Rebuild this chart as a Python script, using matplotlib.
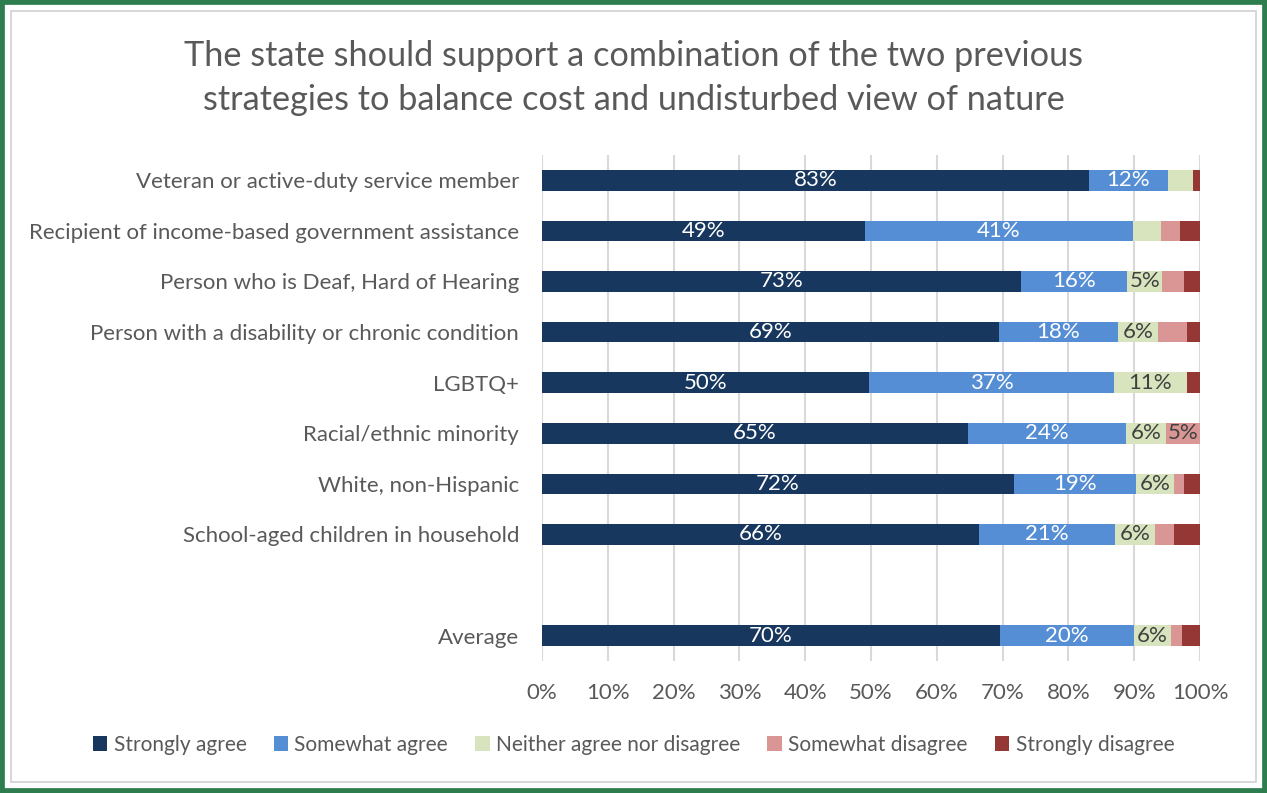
import matplotlib
matplotlib.use("Agg")
import matplotlib.pyplot as plt
from matplotlib.patches import Rectangle
import numpy as np

plt.rcParams['font.family'] = ['Lato', 'DejaVu Sans']

title = "The state should support a combination of the two previous\nstrategies to balance cost and undisturbed view of nature"

categories = [
    "Veteran or active-duty service member",
    "Recipient of income-based government assistance",
    "Person who is Deaf, Hard of Hearing",
    "Person with a disability or chronic condition",
    "LGBTQ+",
    "Racial/ethnic minority",
    "White, non-Hispanic",
    "School-aged children in household",
    "",
    "Average",
]

series_names = ["Strongly agree", "Somewhat agree", "Neither agree nor disagree",
                "Somewhat disagree", "Strongly disagree"]

strongly_agree    = [83.1, 49.1, 72.8, 69.4, 49.7, 64.7, 71.7, 66.4, 0, 69.6]
somewhat_agree    = [12.0, 40.7, 16.1, 18.1, 37.2, 24.0, 18.6, 20.7, 0, 20.4]
neither           = [3.8, 4.3, 5.4, 6.1, 11.1, 6.1, 5.8, 6.1, 0, 5.6]
somewhat_disagree = [0.0, 2.9, 3.2, 4.4, 0.0, 5.2, 1.4, 2.9, 0, 1.7]
strongly_disagree = [1.1, 3.0, 2.5, 2.0, 2.0, 0.0, 2.5, 3.9, 0, 2.7]

colors = ["#17375E", "#558ED5", "#D7E4BD", "#D99694", "#953735"]
label_colors = ["white", "white", "#404040", "#404040", "white"]

fig = plt.figure(figsize=(12.67, 7.93), dpi=100)
W, H = 1267, 793

# outer green frame and thin inner border
fig.patches.append(Rectangle((0, 0), 1, 1, transform=fig.transFigure,
                             facecolor="white", edgecolor="#2E7D4F",
                             linewidth=7, zorder=-2))
fig.patches.append(Rectangle((11 / W, 11 / H), 1 - 22 / W, 1 - 22 / H,
                             transform=fig.transFigure, facecolor="none",
                             edgecolor="#D0D0D0", linewidth=1.2, zorder=-1))

ax = fig.add_axes([542 / W, 1 - 661 / H, (1200 - 542) / W, (661 - 155) / H])

series = [strongly_agree, somewhat_agree, neither, somewhat_disagree, strongly_disagree]
y = np.arange(len(categories))
left = np.zeros(len(categories))
for name, vals, col, lc in zip(series_names, series, colors, label_colors):
    vals = np.array(vals, dtype=float)
    ax.barh(y, vals, left=left, height=0.41, color=col, label=name, zorder=3)
    for yi, (l, v) in enumerate(zip(left, vals)):
        if v >= 4.5:
            ax.text(l + v / 2, yi, f"{v:.0f}%", ha="center", va="center",
                    color=lc, fontsize=16, zorder=4)
    left += vals

ax.set_xlim(0, 100)
ax.set_ylim(len(categories) - 0.5, -0.5)
ax.set_xticks(np.arange(0, 101, 10))
ax.set_xticklabels([f"{t}%" for t in range(0, 101, 10)], fontsize=16, color="#595959")
ax.set_yticks(y)
ax.set_yticklabels(categories, fontsize=16, color="#595959")
ax.tick_params(axis="both", length=0)
ax.tick_params(axis="y", pad=16.5)
ax.tick_params(axis="x", pad=16)
ax.grid(axis="x", color="#D9D9D9", linewidth=1.5, zorder=0)
for s in ax.spines.values():
    s.set_visible(False)

fig.text(0.5, 1 - 78 / H, title, ha="center", va="center", fontsize=24.7,
         color="#595959", linespacing=1.45)

handles, labels = ax.get_legend_handles_labels()
fig.legend(handles, labels, loc="center", bbox_to_anchor=(0.5, 1 - 745 / H),
           ncol=5, frameon=False, fontsize=15, handlelength=0.7,
           handleheight=0.7, handletextpad=0.3, columnspacing=1.3,
           labelcolor="#595959")

fig.savefig("out.png", dpi=100)
